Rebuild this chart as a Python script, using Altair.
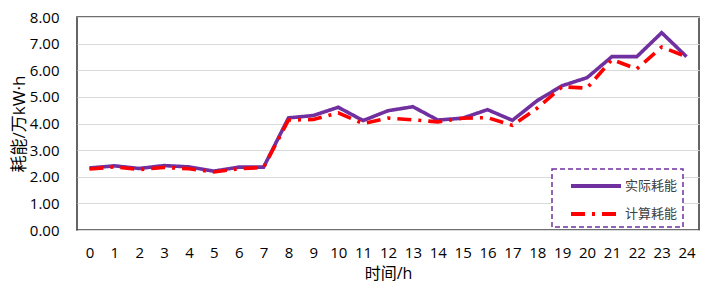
import altair as alt
import pandas as pd

hours = list(range(25))
actual = [2.33, 2.41, 2.31, 2.42, 2.37, 2.21, 2.36, 2.36, 4.21, 4.30, 4.61, 4.11, 4.48,
          4.63, 4.13, 4.20, 4.52, 4.12, 4.86, 5.42, 5.72, 6.51, 6.51, 7.41, 6.51]
calc = [2.29, 2.37, 2.27, 2.35, 2.30, 2.18, 2.30, 2.35, 4.13, 4.15, 4.40, 4.00, 4.20,
        4.14, 4.06, 4.20, 4.22, 3.93, 4.58, 5.38, 5.33, 6.40, 6.05, 6.87, 6.51]
series_names = ["实际耗能", "计算耗能"]
series_colors = ["#7030A0", "#FF0000"]
series_dash = [[1, 0], [14, 7, 3, 7]]

df_a = pd.DataFrame({"h": hours, "v": actual, "s": series_names[0]})
df_c = pd.DataFrame({"h": hours, "v": calc, "s": series_names[1]})

LAT = "Open Sans"
MIX = "Open Sans, Noto Sans CJK SC"
CJK = "Noto Sans CJK SC"

x_enc = alt.X("h:O", title="时间/h",
              axis=alt.Axis(labelAngle=0, ticks=False, domain=False, grid=False,
                            labelFont=LAT, labelFontSize=15, labelColor="#000000",
                            labelPadding=15, titleFont=MIX, titleFontSize=16,
                            titleFontWeight="normal", titleColor="#000000", titlePadding=5))
y_enc = alt.Y("v:Q", title="耗能/万kW·h",
              scale=alt.Scale(domain=[0, 8], nice=False),
              axis=alt.Axis(values=[0, 1, 2, 3, 4, 5, 6, 7, 8], format=".2f", ticks=False,
                            domain=False, gridColor="#D9D9D9", gridWidth=1,
                            labelFont=LAT, labelFontSize=15, labelColor="#000000",
                            labelPadding=18, titleFont=MIX, titleFontSize=17,
                            titleFontWeight="normal", titleColor="#000000", titlePadding=1))
color_enc = alt.Color("s:N", scale=alt.Scale(domain=series_names, range=series_colors),
                      legend=alt.Legend(title=None, orient="none", legendX=475, legendY=152,
                                        symbolType="M-2.5,0H2.5", symbolSize=400,
                                        symbolStrokeWidth=4,
                                        symbolOffset=27, labelOffset=17,
                                        labelFont=CJK, labelFontSize=13, labelColor="#404040",
                                        rowPadding=8, padding=5,
                                        strokeColor="#7030A0", fillColor="#FFFFFF"))
dash_enc = alt.StrokeDash("s:N", scale=alt.Scale(domain=series_names, range=series_dash),
                          legend=None)

line_a = alt.Chart(df_a).mark_line(strokeWidth=3.6, strokeCap="butt").encode(
    x=x_enc, y=y_enc, color=color_enc, strokeDash=dash_enc)
line_c = alt.Chart(df_c).mark_line(strokeWidth=3.6, strokeCap="butt").encode(
    x=x_enc, y=y_enc, color=color_enc, strokeDash=dash_enc)

chart = alt.layer(line_a, line_c).properties(
    width=622, height=213,
    padding={"left": 69, "top": 9, "right": 1, "bottom": 52},
    autosize=alt.AutoSizeParams(type="none"),
).configure_view(
    stroke="#404040", strokeWidth=1.6
).configure_legend(
    strokeDash=[5, 3], strokeWidth=1.5
)

chart.save("out.html", embed_options={"renderer": "svg", "actions": False})
